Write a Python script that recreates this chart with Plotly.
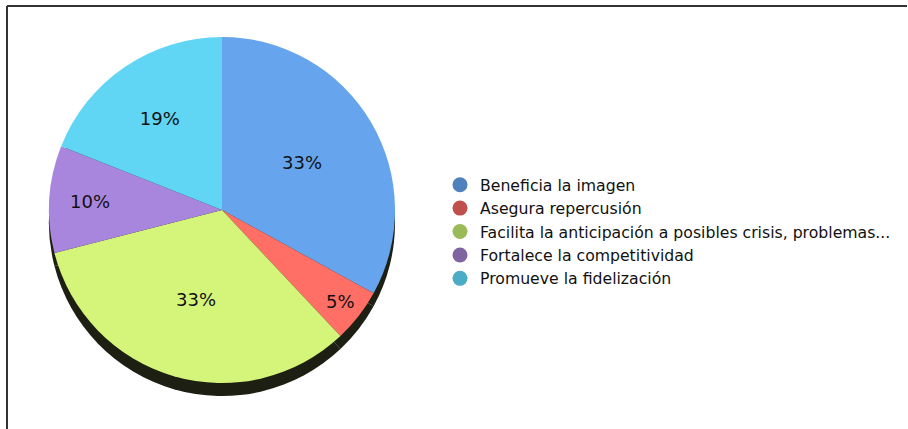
import plotly.graph_objects as go

categories = ["Beneficia la imagen", "Asegura repercusión",
              "Facilita la anticipación a posibles crisis, problemas...",
              "Fortalece la competitividad", "Promueve la fidelización"]
values = [33, 5, 33, 10, 19]
slice_colors = ["#67A4EE", "#FF6F66", "#D5F57A", "#A986DE", "#60D6F4"]
legend_colors = ["#4F81BD", "#C0504D", "#9BBB59", "#8064A2", "#4BACC6"]

W, H = 908, 429
cx, cy, r = 222, 210, 173
shadow_dy = 13

def dom(cx, cy, r):
    return dict(x=[(cx - r) / W, (cx + r) / W],
                y=[(H - (cy + r)) / H, (H - (cy - r)) / H])

fig = go.Figure()
# shadow (3D side)
fig.add_trace(go.Pie(values=values, labels=categories, sort=False, direction="clockwise",
                     rotation=0, domain=dom(cx, cy + shadow_dy, r),
                     marker=dict(colors=["#1C1F12"] * len(values), line=dict(width=0)),
                     textinfo="none", hoverinfo="skip", showlegend=False))
fig.add_trace(go.Pie(values=values, labels=categories, sort=False, direction="clockwise",
                     rotation=0, domain=dom(cx, cy, r),
                     marker=dict(colors=slice_colors, line=dict(width=0)),
                     texttemplate="%{percent:.0%}", textposition="inside",
                     insidetextorientation="horizontal",
                     textfont=dict(family="DejaVu Sans", size=18, color="#111111"),
                     showlegend=False))
for c, col in zip(categories, legend_colors):
    fig.add_trace(go.Scatter(x=[None], y=[None], mode="markers", name=c,
                             marker=dict(symbol="circle", size=15, color=col)))

fig.update_layout(
    width=W, height=H, margin=dict(l=0, r=0, t=0, b=0),
    paper_bgcolor="white", plot_bgcolor="white",
    xaxis=dict(visible=False), yaxis=dict(visible=False),
    legend=dict(x=440 / W, y=1 - 168 / H, xanchor="left", yanchor="top",
                font=dict(family="DejaVu Sans", size=15.7, color="#111111"),
                tracegroupgap=0, itemclick=False, itemdoubleclick=False,
                bgcolor="rgba(0,0,0,0)"),
    shapes=[
        dict(type="line", xref="paper", yref="paper", x0=7 / W, x1=907 / W,
             y0=1 - 6 / H, y1=1 - 6 / H, line=dict(color="#333333", width=2)),
        dict(type="line", xref="paper", yref="paper", x0=7 / W, x1=7 / W,
             y0=0, y1=1 - 6 / H, line=dict(color="#333333", width=2)),
    ],
)
fig.write_html("out.html", config={"displayModeBar": False},
               post_script="document.body.style.margin='0';")
